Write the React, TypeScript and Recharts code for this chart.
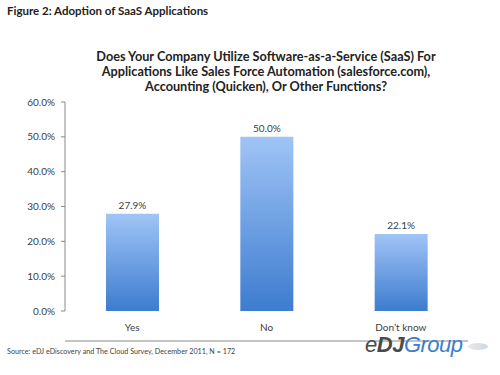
import React from 'react';
import { BarChart, Bar, XAxis, YAxis, LabelList } from 'recharts';

const categories = ['Yes', 'No', 'Don\u2019t know'];
const shares = [27.9, 50.0, 22.1];
const yTicks = [0, 10, 20, 30, 40, 50, 60];
const boundaryTicks = [0, 1, 2, 3];

const data = categories.map((name, i) => ({ name, value: shares[i] }));

const FONT = 'Lato, "Open Sans", sans-serif';
const TEXT = '#404040';
const AXIS = '#8a8a8a';

export default function App() {
  return (
    <div style={{ position: 'absolute', left: 0, top: 0, width: 500, height: 375, background: '#fff', fontFamily: FONT }}>
      <div style={{ position: 'absolute', left: 7, top: 4, fontSize: 11.5, fontWeight: 700, color: '#222' }}>
        Figure 2: Adoption of SaaS Applications
      </div>
      <div
        style={{
          position: 'absolute',
          left: 56,
          width: 420,
          top: 49,
          textAlign: 'center',
          fontSize: 12.7,
          lineHeight: '15px',
          fontWeight: 700,
          color: '#222',
        }}
      >
        Does Your Company Utilize Software-as-a-Service (SaaS) For
        <br />
        Applications Like Sales Force Automation (salesforce.com),
        <br />
        Accounting (Quicken), Or Other Functions?
      </div>

      <BarChart width={500} height={375} data={data} margin={{ top: 102, right: 32, bottom: 33, left: 0 }}>
        <defs>
          <linearGradient id="barFill" x1="0" y1="0" x2="0" y2="1">
            <stop offset="0%" stopColor="#a0c4f6" />
            <stop offset="100%" stopColor="#3d7ccf" />
          </linearGradient>
        </defs>
        <XAxis
          xAxisId="grid"
          type="number"
          domain={[0, 3]}
          ticks={boundaryTicks}
          tick={false}
          height={1}
          tickSize={5}
          axisLine={{ stroke: AXIS }}
          tickLine={{ stroke: AXIS }}
        />
        <XAxis
          xAxisId="cat"
          dataKey="name"
          axisLine={false}
          tickLine={false}
          tickMargin={7}
          tick={{ fill: TEXT, fontSize: 10, fontFamily: FONT }}
        />
        <YAxis
          domain={[0, 60]}
          ticks={yTicks}
          width={65}
          tickSize={4}
          tickMargin={6}
          axisLine={{ stroke: AXIS }}
          tickLine={{ stroke: AXIS }}
          tickFormatter={(v: number) => `${v.toFixed(1)}%`}
          tick={{ fill: TEXT, fontSize: 10, fontFamily: FONT }}
        />
        <Bar xAxisId="cat" dataKey="value" fill="url(#barFill)" barSize={53} isAnimationActive={false}>
          <LabelList
            dataKey="value"
            position="top"
            offset={5}
            formatter={(v: number) => `${v.toFixed(1)}%`}
            style={{ fill: TEXT, fontSize: 10, fontFamily: FONT }}
          />
        </Bar>
      </BarChart>

      <div style={{ position: 'absolute', left: 7, top: 347, fontSize: 7.2, color: '#444' }}>
        Source: eDJ eDiscovery and The Cloud Survey, December 2011, N = 172
      </div>
      <div
        style={{
          position: 'absolute',
          left: 365,
          top: 332,
          fontSize: 22,
          fontStyle: 'italic',
          fontFamily: '"Liberation Sans", Arial, sans-serif',
          letterSpacing: -0.5,
          lineHeight: '26px',
        }}
      >
        <span style={{ color: '#4a4a4a' }}>e</span>
        <span style={{ color: '#4a4a4a', fontWeight: 700 }}>DJ</span>
        <span style={{ color: '#3b7ccc' }}>Group</span>
      </div>
      <div
        style={{
          position: 'absolute',
          left: 468,
          top: 343,
          width: 20,
          height: 7,
          borderRadius: '50%',
          background: 'linear-gradient(90deg, #e8e8e8, #cfd8e4)',
        }}
      />
    </div>
  );
}
